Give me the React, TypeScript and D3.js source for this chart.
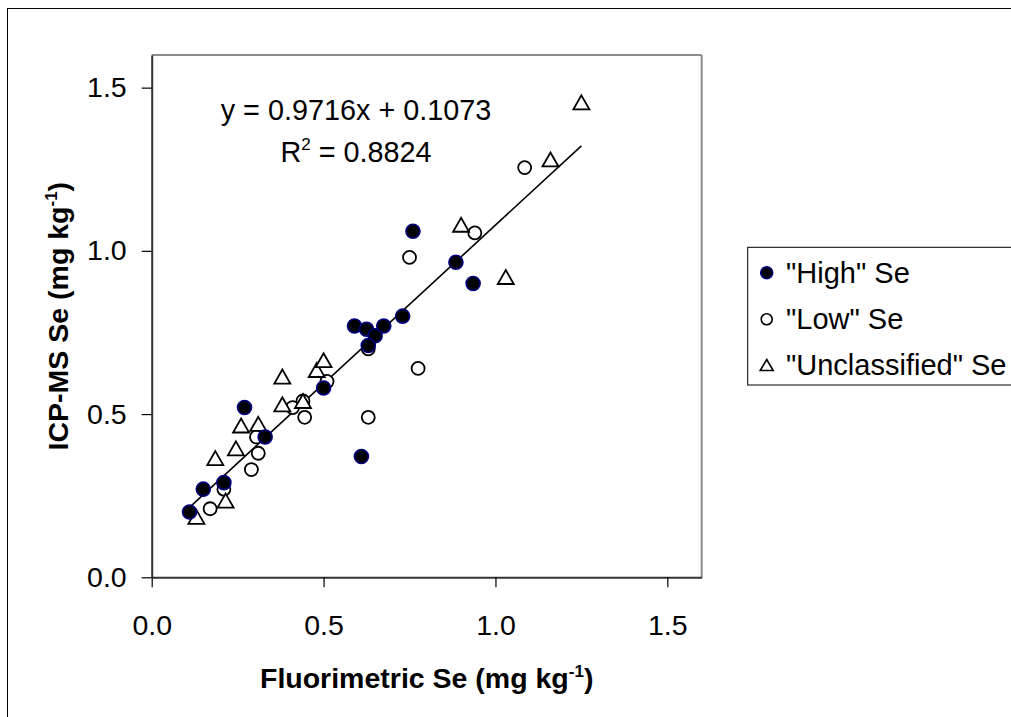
import React, { useEffect, useRef } from 'react';
import * as d3 from 'd3';

// values
const highSe = [
    { x: 0.11, y: 0.20 }, { x: 0.15, y: 0.27 }, { x: 0.21, y: 0.29 }, { x: 0.27, y: 0.52 },
    { x: 0.33, y: 0.43 }, { x: 0.50, y: 0.58 }, { x: 0.59, y: 0.77 }, { x: 0.625, y: 0.76 },
    { x: 0.65, y: 0.74 }, { x: 0.675, y: 0.77 }, { x: 0.63, y: 0.71 }, { x: 0.73, y: 0.80 },
    { x: 0.61, y: 0.37 }, { x: 0.76, y: 1.06 }, { x: 0.885, y: 0.965 }, { x: 0.935, y: 0.90 },
];

const lowSe = [
    { x: 0.17, y: 0.21 }, { x: 0.21, y: 0.27 }, { x: 0.29, y: 0.33 }, { x: 0.31, y: 0.38 },
    { x: 0.305, y: 0.43 }, { x: 0.41, y: 0.52 }, { x: 0.44, y: 0.54 }, { x: 0.445, y: 0.49 },
    { x: 0.51, y: 0.60 }, { x: 0.63, y: 0.49 }, { x: 0.63, y: 0.70 }, { x: 0.775, y: 0.64 },
    { x: 0.75, y: 0.98 }, { x: 0.94, y: 1.055 }, { x: 1.085, y: 1.255 },
];

const unclassifiedSe = [
    { x: 0.13, y: 0.185 }, { x: 0.215, y: 0.235 }, { x: 0.185, y: 0.365 }, { x: 0.245, y: 0.395 },
    { x: 0.26, y: 0.465 }, { x: 0.31, y: 0.47 }, { x: 0.38, y: 0.53 }, { x: 0.38, y: 0.615 },
    { x: 0.44, y: 0.54 }, { x: 0.48, y: 0.635 }, { x: 0.50, y: 0.665 }, { x: 0.90, y: 1.08 },
    { x: 1.03, y: 0.92 }, { x: 1.16, y: 1.28 }, { x: 1.25, y: 1.455 },
];

const TICKS = [0, 0.5, 1.0, 1.5];
const SLOPE = 0.9716;
const INTERCEPT = 0.1073;
const LEGEND_LABELS = ['"High" Se', '"Low" Se', '"Unclassified" Se'];

const FONT = '"Liberation Sans", Arial, sans-serif';

const triangle = (w, h) => `M0,${-h / 2}L${w / 2},${h / 2}L${-w / 2},${h / 2}Z`;

export default function App() {
    const xAxisRef = useRef(null);
    const yAxisRef = useRef(null);

    const left = 151.7, right = 701.7, top = 55, bottom = 577.3;

    const xScale = d3.scaleLinear().domain([0, 1.6]).range([left, right]);
    const yScale = d3.scaleLinear().domain([0, 1.6]).range([bottom, top]);

    const allX = [...highSe, ...lowSe, ...unclassifiedSe].map(d => d.x);
    const [xMin, xMax] = d3.extent(allX);
    const trendLine = d3.line()
        .x(d => xScale(d))
        .y(d => yScale(SLOPE * d + INTERCEPT));

    useEffect(() => {
        const fmt = d3.format('.1f');
        const xAxis = d3.axisBottom(xScale).tickValues(TICKS).tickFormat(fmt)
            .tickSize(10).tickSizeOuter(0).tickPadding(27);
        const yAxis = d3.axisLeft(yScale).tickValues(TICKS).tickFormat(fmt)
            .tickSize(10).tickSizeOuter(0).tickPadding(15);

        const gx = d3.select(xAxisRef.current);
        gx.selectAll('*').remove();
        gx.call(xAxis);
        const gy = d3.select(yAxisRef.current);
        gy.selectAll('*').remove();
        gy.call(yAxis);

        [gx, gy].forEach(g => {
            g.attr('font-family', FONT).attr('font-size', 28.5);
            g.selectAll('text').attr('fill', '#000');
            g.select('.domain').attr('stroke', '#333').attr('stroke-width', 2);
            g.selectAll('.tick line').attr('stroke', '#000').attr('stroke-width', 1.2);
        });
    }, []);

    const legendRows = [272.7, 319.3, 365];

    return (
        <div style={{ position: 'absolute', left: 0, top: 0 }}>
            <svg width={1011} height={717} style={{ display: 'block', background: '#fff' }}>
                <rect x={7.5} y={8.5} width={1100} height={800} fill="#fff" stroke="#000" strokeWidth={1} />

                {/* plot area frame: top and right in grey */}
                <line x1={left} x2={right} y1={top} y2={top} stroke="#8c8c8c" strokeWidth={2} />
                <line x1={right} x2={right} y1={top} y2={bottom} stroke="#8c8c8c" strokeWidth={2} />

                <g ref={xAxisRef} transform={`translate(0,${bottom})`} />
                <g ref={yAxisRef} transform={`translate(${left},0)`} />

                <path d={trendLine([xMin, xMax]) || ''} fill="none" stroke="#000" strokeWidth={1.6} />

                {lowSe.map((d, i) => (
                    <circle key={`l${i}`} cx={xScale(d.x)} cy={yScale(d.y)} r={6.5}
                        fill="#fff" stroke="#000" strokeWidth={1.8} />
                ))}
                {unclassifiedSe.map((d, i) => (
                    <path key={`u${i}`} d={triangle(16, 14)}
                        transform={`translate(${xScale(d.x)},${yScale(d.y)})`}
                        fill="#fff" stroke="#000" strokeWidth={1.8} />
                ))}
                {highSe.map((d, i) => (
                    <circle key={`h${i}`} cx={xScale(d.x)} cy={yScale(d.y)} r={7}
                        fill="#000" stroke="#000080" strokeWidth={1.6} />
                ))}

                <g fontFamily={FONT} fontSize={28.8} fill="#000" textAnchor="middle">
                    <text x={356} y={120}>y = 0.9716x + 0.1073</text>
                    <text x={356} y={161.7}>
                        R<tspan fontSize={17} dy={-12}>2</tspan><tspan dy={12}> = 0.8824</tspan>
                    </text>
                </g>

                {/* axis titles */}
                <text x={(left + right) / 2} y={688} textAnchor="middle" fontFamily={FONT}
                    fontSize={28.5} fontWeight="bold">
                    Fluorimetric Se (mg kg<tspan fontSize={17} dy={-11}>-1</tspan><tspan dy={11}>)</tspan>
                </text>
                <text transform={`translate(68,${(top + bottom) / 2}) rotate(-90)`} textAnchor="middle"
                    fontFamily={FONT} fontSize={28.5} fontWeight="bold">
                    ICP-MS Se (mg kg<tspan fontSize={17} dy={-11}>-1</tspan><tspan dy={11}>)</tspan>
                </text>

                {/* legend */}
                <rect x={747.7} y={247.3} width={400} height={137.7} fill="#fff" stroke="#000" strokeWidth={1} />
                <circle cx={766.7} cy={legendRows[0]} r={6} fill="#000" stroke="#000080" strokeWidth={1.6} />
                <circle cx={766.7} cy={legendRows[1]} r={5.5} fill="#fff" stroke="#000" strokeWidth={1.6} />
                <path d={triangle(13, 11)} transform={`translate(766.7,${legendRows[2]})`}
                    fill="#fff" stroke="#000" strokeWidth={1.6} />
                {LEGEND_LABELS.map((label, i) => (
                    <text key={label} x={786} y={legendRows[i]} dy="0.35em" fontFamily={FONT} fontSize={29}>
                        {label}
                    </text>
                ))}
            </svg>
        </div>
    );
}
